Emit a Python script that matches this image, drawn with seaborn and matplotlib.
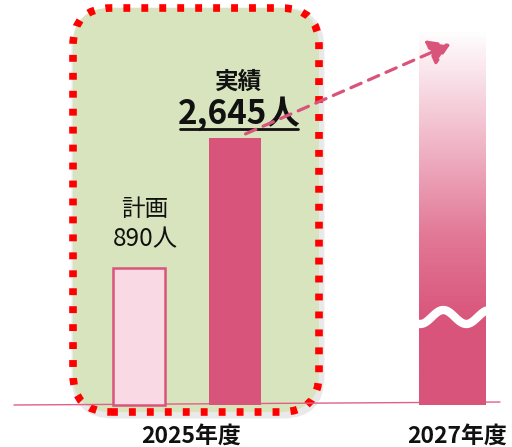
import numpy as np
import pandas as pd
import matplotlib
matplotlib.use("Agg")
import matplotlib.pyplot as plt
import seaborn as sns
from matplotlib.patches import FancyBboxPatch, FancyArrowPatch
from matplotlib.colors import LinearSegmentedColormap

# data
years = ['2025年度', '2027年度']
series = ['計画', '実績']
values = [890, 2645]
# drawn bar heights (chart is not to scale)
bar_heights = [137, 267]
target_height = 375

sns.set_style("white")
plt.rcParams['font.family'] = ['Noto Sans CJK JP', 'DejaVu Sans']

PINK = '#D9547A'
LIGHT = '#F9D9E3'

fig = plt.figure(figsize=(5.12, 4.47), dpi=100)
ax = fig.add_axes([0, 0, 1, 1])

# green panel with red dotted border
shadow = FancyBboxPatch((75, -10), 246, 404, boxstyle="round,pad=0,rounding_size=38",
                        fc='none', ec='#aaaaaa', lw=5, alpha=0.25, zorder=1)
ax.add_patch(shadow)
panel = FancyBboxPatch((73, -7), 246, 404, boxstyle="round,pad=0,rounding_size=38",
                       fc='#D7E4BD', ec='#FF0000', lw=5.5, ls=(0, (0.9, 1.45)), zorder=2)
ax.add_patch(panel)

# baseline
ax.plot([14, 500], [0, 3], color='#E06088', lw=1, zorder=3)

# 2025 bars
df = pd.DataFrame({'x': [139, 235], 'h': bar_heights, 'series': series})
sns.barplot(data=df, x='x', y='h', hue='series', palette=[LIGHT, PINK], saturation=1,
            native_scale=True, width=0.54, legend=False, ax=ax, zorder=4)
plan_bar, act_bar = ax.patches[-2], ax.patches[-1]
plan_bar.set_edgecolor(PINK)
plan_bar.set_linewidth(1.8)
act_bar.set_edgecolor('none')

# labels above bars
px = plan_bar.get_x() + plan_bar.get_width() / 2 + 6
ax.text(px, bar_heights[0] + 58, series[0], ha='center', va='center',
        fontsize=17, color='#111111', zorder=6)
ax.text(px, bar_heights[0] + 29, f'{values[0]:,}人', ha='center', va='center',
        fontsize=17.5, color='#111111', zorder=6)
axx = act_bar.get_x() + act_bar.get_width() / 2 + 4
ax.text(axx, bar_heights[1] + 24, f'{values[1]:,}人', ha='center', va='center',
        fontsize=24, fontweight='bold', color='#111111', zorder=6)
ax.plot([180, 298], [bar_heights[1] + 9, bar_heights[1] + 9], color='#111111', lw=2, zorder=6)
ax.text(axx, bar_heights[1] + 56, series[1], ha='center', va='center',
        fontsize=17, fontweight='bold', color='#111111', zorder=6)

# 2027 gradient bar
x0, w = 419, 67
cmap = LinearSegmentedColormap.from_list('g', [(0, PINK), (0.22, PINK), (0.45, '#E27896'),
                                               (0.75, '#F3C3D2'), (1, '#FFFFFF')])
grad = np.linspace(0, 1, 256).reshape(-1, 1)
ax.imshow(grad, cmap=cmap, extent=[x0, x0 + w, 0, target_height], origin='lower',
          aspect='auto', zorder=4)

# wavy break
t = np.linspace(0, 1, 100)
ax.plot(x0 - 1 + (w + 2) * t, 88 - 7 * np.sin(2 * np.pi * 1.5 * t + np.pi * 0.4),
        color='white', lw=6, solid_capstyle='butt', zorder=5)

# dashed arrow
arr = FancyArrowPatch((243, bar_heights[1] + 3), (453, 362), arrowstyle='-|>,head_length=8,head_width=5',
                      color=PINK, lw=2.3, ls=(0, (3.5, 2.5)), zorder=7, mutation_scale=1.6)
ax.add_patch(arr)

# year labels
ax.text(191, -31, years[0], ha='center', va='center', fontsize=16.5, fontweight='bold', color='#111111')
ax.text(457, -31, years[1], ha='center', va='center', fontsize=16.5, fontweight='bold', color='#111111')

ax.set_xlim(0, 512)
ax.set_ylim(-42, 405)
ax.axis('off')

fig.savefig('out.png', dpi=100)
